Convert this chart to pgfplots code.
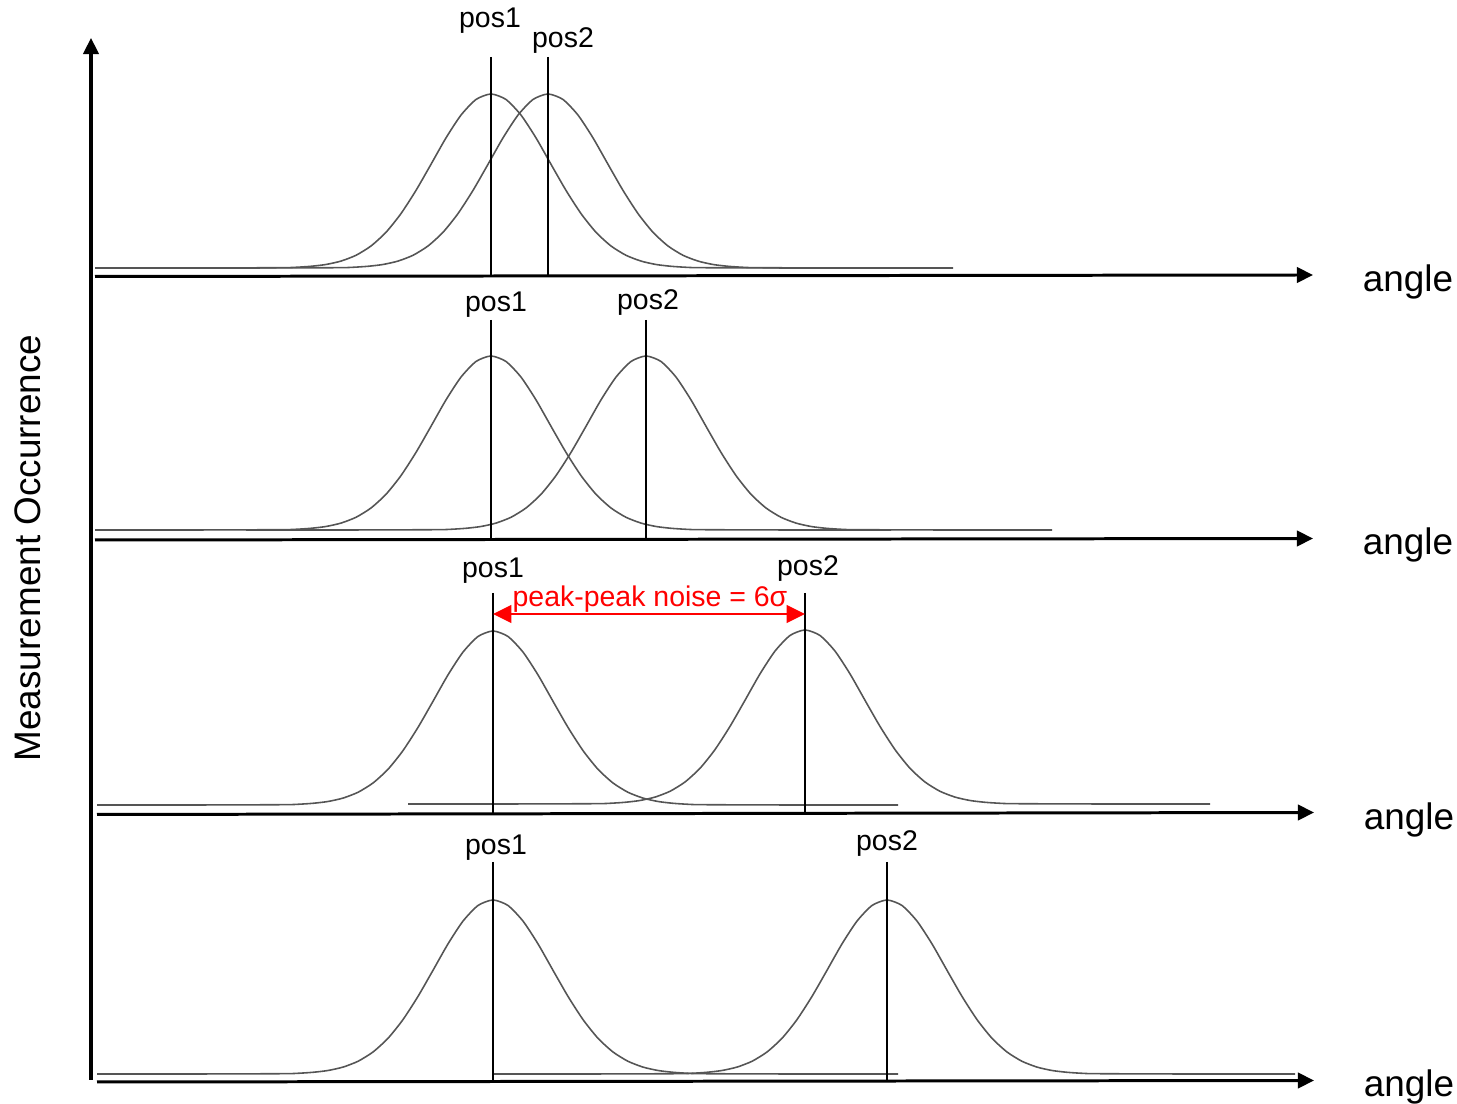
\documentclass[border=0pt]{standalone}
\usepackage{pgfplots}
\pgfplotsset{compat=1.18}
\usepackage{fontspec}
\setmainfont{Liberation Sans}
\usetikzlibrary{arrows.meta}
\definecolor{curve}{HTML}{555555}
\begin{document}
\begin{tikzpicture}
\begin{axis}[width=14.57cm, height=11.04cm, scale only axis,
  xmin=0, xmax=1457, ymin=0, ymax=1104, y dir=reverse,
  hide axis, clip=false]
\coordinate (BL) at (axis cs:0,1104);
\coordinate (TR) at (axis cs:1457,0);
% ---------- curves ----------
\pgfplotsset{gauss/.style={curve, line width=0.45pt, smooth, tension=0.4, mark=none}}
% panel 1
\addplot[gauss] coordinates {(95,268)(191,268)(281,267.7)(296,267.3)(311,266.3)(326,264.5)(341,261.1)(356,255.3)(371,246.0)(386,232.3)(401,213.6)(416,190.4)(431,164.3)(446,137.9)(461,115.1)(476,99.5)(491,94)(506,99.5)(521,115.1)(536,137.9)(551,164.3)(566,190.4)(581,213.6)(596,232.3)(611,246.0)(626,255.3)(641,261.1)(656,264.5)(671,266.3)(686,267.3)(701,267.7)(791,268)(891,268)};
\addplot[gauss] coordinates {(148,268)(248,268)(338,267.7)(353,267.3)(368,266.3)(383,264.5)(398,261.1)(413,255.3)(428,246.0)(443,232.3)(458,213.6)(473,190.4)(488,164.3)(503,137.9)(518,115.1)(533,99.5)(548,94)(563,99.5)(578,115.1)(593,137.9)(608,164.3)(623,190.4)(638,213.6)(653,232.3)(668,246.0)(683,255.3)(698,261.1)(713,264.5)(728,266.3)(743,267.3)(758,267.7)(848,268)(953,268)};
% panel 2
\addplot[gauss] coordinates {(95,530)(191,530)(281,529.7)(296,529.3)(311,528.3)(326,526.5)(341,523.1)(356,517.3)(371,508.0)(386,494.3)(401,475.6)(416,452.4)(431,426.3)(446,399.9)(461,377.1)(476,361.5)(491,356)(506,361.5)(521,377.1)(536,399.9)(551,426.3)(566,452.4)(581,475.6)(596,494.3)(611,508.0)(626,517.3)(641,523.1)(656,526.5)(671,528.3)(686,529.3)(701,529.7)(791,530)(891,530)};
\addplot[gauss] coordinates {(246,530)(346,530)(436,529.7)(451,529.3)(466,528.3)(481,526.5)(496,523.1)(511,517.3)(526,508.0)(541,494.3)(556,475.6)(571,452.4)(586,426.3)(601,399.9)(616,377.1)(631,361.5)(646,356)(661,361.5)(676,377.1)(691,399.9)(706,426.3)(721,452.4)(736,475.6)(751,494.3)(766,508.0)(781,517.3)(796,523.1)(811,526.5)(826,528.3)(841,529.3)(856,529.7)(946,530)(1052,530)};
% panel 3
\addplot[gauss] coordinates {(97,805)(193,805)(283,804.7)(298,804.3)(313,803.3)(328,801.5)(343,798.1)(358,792.3)(373,783.0)(388,769.3)(403,750.6)(418,727.4)(433,701.3)(448,674.9)(463,652.1)(478,636.5)(493,631)(508,636.5)(523,652.1)(538,674.9)(553,701.3)(568,727.4)(583,750.6)(598,769.3)(613,783.0)(628,792.3)(643,798.1)(658,801.5)(673,803.3)(688,804.3)(703,804.7)(793,805)(898,805)};
\addplot[gauss] coordinates {(408,804)(505,804)(595,803.7)(610,803.3)(625,802.3)(640,800.5)(655,797.1)(670,791.3)(685,782.0)(700,768.3)(715,749.6)(730,726.4)(745,700.3)(760,673.9)(775,651.1)(790,635.5)(805,630)(820,635.5)(835,651.1)(850,673.9)(865,700.3)(880,726.4)(895,749.6)(910,768.3)(925,782.0)(940,791.3)(955,797.1)(970,800.5)(985,802.3)(1000,803.3)(1015,803.7)(1105,804)(1210,804)};
% panel 4
\addplot[gauss] coordinates {(97,1074)(193,1074)(283,1073.7)(298,1073.3)(313,1072.3)(328,1070.5)(343,1067.1)(358,1061.3)(373,1052.0)(388,1038.3)(403,1019.6)(418,996.4)(433,970.3)(448,943.9)(463,921.1)(478,905.5)(493,900)(508,905.5)(523,921.1)(538,943.9)(553,970.3)(568,996.4)(583,1019.6)(598,1038.3)(613,1052.0)(628,1061.3)(643,1067.1)(658,1070.5)(673,1072.3)(688,1073.3)(703,1073.7)(793,1074)(898,1074)};
\addplot[gauss] coordinates {(493,1074)(587,1074)(677,1073.7)(692,1073.3)(707,1072.3)(722,1070.5)(737,1067.1)(752,1061.3)(767,1052.0)(782,1038.3)(797,1019.6)(812,996.4)(827,970.3)(842,943.9)(857,921.1)(872,905.5)(887,900)(902,905.5)(917,921.1)(932,943.9)(947,970.3)(962,996.4)(977,1019.6)(992,1038.3)(1007,1052.0)(1022,1061.3)(1037,1067.1)(1052,1070.5)(1067,1072.3)(1082,1073.3)(1097,1073.7)(1187,1074)(1295,1074)};
% ---------- axes ----------
\pgfplotsset{ax/.style={black, line width=0.85pt, mark=none, -{Triangle[length=4.6pt,width=4.4pt]}}}
\addplot[ax, line width=0.9pt] coordinates {(91,1080)(91,38)};
\addplot[ax] coordinates {(95,276.5)(1313,275)};
\addplot[ax] coordinates {(95,540)(1313,538.5)};
\addplot[ax] coordinates {(97,814.5)(1314,812.5)};
\addplot[ax] coordinates {(97,1082)(1314,1080.5)};
% ---------- position lines ----------
\pgfplotsset{pl/.style={black, line width=0.65pt, mark=none}}
\addplot[pl] coordinates {(491,57)(491,276)};
\addplot[pl] coordinates {(548,57)(548,276)};
\addplot[pl] coordinates {(491,320)(491,539)};
\addplot[pl] coordinates {(646,320)(646,539)};
\addplot[pl] coordinates {(493,593)(493,813)};
\addplot[pl] coordinates {(805,593)(805,813)};
\addplot[pl] coordinates {(493,862)(493,1081)};
\addplot[pl] coordinates {(887,862)(887,1081)};
% red arrow
\addplot[red, line width=0.6pt, mark=none, {Triangle[length=5.2pt,width=5pt]}-{Triangle[length=5.2pt,width=5pt]}] coordinates {(493,614)(805,614)};
% ---------- labels ----------
\def\ps{\fontsize{8.1}{9.5}\selectfont}
\def\bs{\fontsize{10.5}{12.5}\selectfont}
\node[font=\ps] at (axis cs:490,21) {pos1};
\node[font=\ps] at (axis cs:563,41) {pos2};
\node[font=\ps] at (axis cs:496,305) {pos1};
\node[font=\ps] at (axis cs:648,303) {pos2};
\node[font=\ps] at (axis cs:493,571) {pos1};
\node[font=\ps] at (axis cs:808,569) {pos2};
\node[font=\ps] at (axis cs:496,848) {pos1};
\node[font=\ps] at (axis cs:887,844) {pos2};
\node[font=\ps, text=red] at (axis cs:650,599) {peak-peak noise = 6σ};
\node[font=\bs] at (axis cs:1408,282) {angle};
\node[font=\bs] at (axis cs:1408,545) {angle};
\node[font=\bs] at (axis cs:1409,820) {angle};
\node[font=\bs] at (axis cs:1409,1087) {angle};
\node[font=\bs, rotate=90] at (axis cs:28,548) {Measurement Occurrence};
\end{axis}
\pgfresetboundingbox
\path[use as bounding box] (BL) rectangle (TR);
\end{tikzpicture}
\end{document}
